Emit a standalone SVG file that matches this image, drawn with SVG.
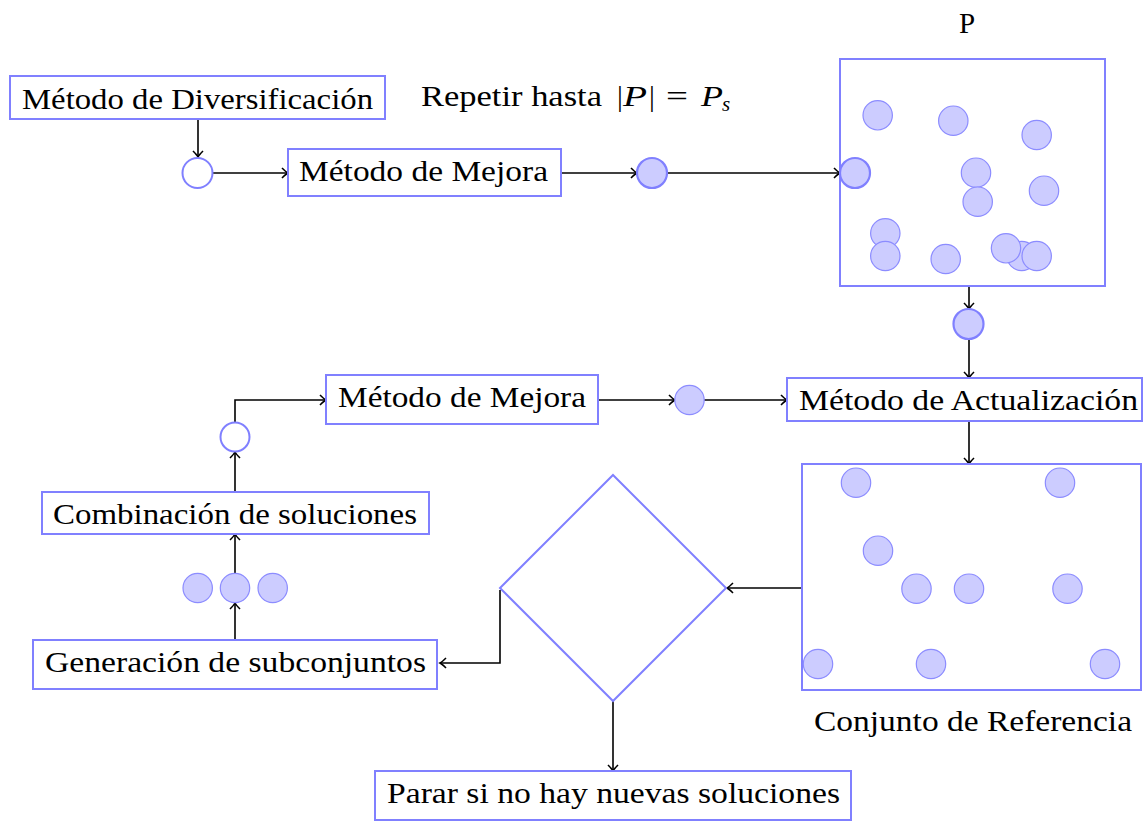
<svg xmlns="http://www.w3.org/2000/svg" width="1146" height="821" viewBox="0 0 1146 821">
<style>
.box{fill:#fff;stroke:#8080ff;stroke-width:2}
.dia{fill:none;stroke:#8080ff;stroke-width:2}
.sol{fill:#ccccff;stroke:#8c8cff;stroke-width:1.2}
.solb{fill:#ccccff;stroke:#8080ff;stroke-width:2.2}
.emp{fill:#fff;stroke:#8080ff;stroke-width:2}
.t{font-family:"Liberation Serif","Times New Roman",serif;font-size:29px;fill:#000}
.c{fill:none;stroke:#000;stroke-width:1.6}
</style>
<defs>
<marker id="ar" markerUnits="userSpaceOnUse" markerWidth="14" markerHeight="14" viewBox="-8 -7 10 14" refX="0" refY="0" orient="auto">
<path d="M-6,-5 Q-2,-1 0,0 Q-2,1 -6,5" fill="none" stroke="#000" stroke-width="1.6"/>
</marker>
</defs>
<g id="connectors">
<path class="c" d="M198,119 V157" marker-end="url(#ar)"/>
<path class="c" d="M212,173 H288" marker-end="url(#ar)"/>
<path class="c" d="M561,173 H637" marker-end="url(#ar)"/>
<path class="c" d="M667,173 H840" marker-end="url(#ar)"/>
<path class="c" d="M969,286 V309" marker-end="url(#ar)"/>
<path class="c" d="M969,339 V378" marker-end="url(#ar)"/>
<path class="c" d="M969,421 V464" marker-end="url(#ar)"/>
<path class="c" d="M802,588 H727" marker-end="url(#ar)"/>
<path class="c" d="M500,590 V663 H440" marker-end="url(#ar)"/>
<path class="c" d="M613,701 V771" marker-end="url(#ar)"/>
<path class="c" d="M235,640 V603" marker-end="url(#ar)"/>
<path class="c" d="M235,573 V534" marker-end="url(#ar)"/>
<path class="c" d="M235,491 V452" marker-end="url(#ar)"/>
<path class="c" d="M235,422 V400 H326" marker-end="url(#ar)"/>
<path class="c" d="M598,400 H675" marker-end="url(#ar)"/>
<path class="c" d="M704,400 H787" marker-end="url(#ar)"/>
</g>
<g id="diversificacion">
<rect class="box" x="10" y="76" width="375" height="43"/>
<text class="t" x="22" y="109" textLength="351" lengthAdjust="spacingAndGlyphs">Método de Diversificación</text>
</g>
<g id="circ1"><circle class="emp" cx="197.5" cy="173" r="15"/></g>
<g id="mejora1">
<rect class="box" x="288" y="149" width="273" height="47"/>
<text class="t" x="299" y="181" textLength="249" lengthAdjust="spacingAndGlyphs">Método de Mejora</text>
</g>
<g id="repetir">
<text class="t" y="106"><tspan x="421" textLength="181" lengthAdjust="spacingAndGlyphs">Repetir hasta</tspan><tspan x="617">|</tspan><tspan x="623" font-style="italic" textLength="24" lengthAdjust="spacingAndGlyphs">P</tspan><tspan x="649">|</tspan><tspan x="666" textLength="22" lengthAdjust="spacingAndGlyphs">=</tspan><tspan x="701" font-style="italic" textLength="22" lengthAdjust="spacingAndGlyphs">P</tspan><tspan x="722" y="111" font-style="italic" font-size="21">s</tspan></text>
</g>
<g id="circ2"><circle class="solb" cx="652" cy="173" r="15"/></g>
<g id="setP">
<text class="t" x="967" y="33" text-anchor="middle">P</text>
<rect class="box" x="840" y="59" width="265" height="227"/>
<circle class="sol" cx="877.7" cy="115.3" r="14.7"/>
<circle class="sol" cx="953.3" cy="120.7" r="14.7"/>
<circle class="sol" cx="1036.7" cy="135" r="14.7"/>
<circle class="sol" cx="976" cy="172.7" r="14.7"/>
<circle class="sol" cx="977.7" cy="201.7" r="14.7"/>
<circle class="sol" cx="1044" cy="190.7" r="14.7"/>
<circle class="sol" cx="885.3" cy="233.3" r="14.7"/>
<circle class="sol" cx="885.3" cy="256" r="14.7"/>
<circle class="sol" cx="945.7" cy="259" r="14.7"/>
<circle class="sol" cx="1021.7" cy="256" r="14.7"/>
<circle class="sol" cx="1006" cy="248.3" r="14.7"/>
<circle class="sol" cx="1036.7" cy="256" r="14.7"/>
<circle class="solb" cx="855" cy="173" r="15"/>
</g>
<g id="circ3"><circle class="solb" cx="968.5" cy="324" r="15"/></g>
<g id="actualizacion">
<rect class="box" x="787" y="378" width="355" height="43"/>
<text class="t" x="799" y="410" textLength="339" lengthAdjust="spacingAndGlyphs">Método de Actualización</text>
</g>
<g id="mejora2">
<rect class="box" x="326" y="375" width="272" height="49"/>
<text class="t" x="338" y="407" textLength="248" lengthAdjust="spacingAndGlyphs">Método de Mejora</text>
</g>
<g id="circ4"><circle class="sol" cx="689.5" cy="400" r="14.7"/></g>
<g id="circ5"><circle class="emp" cx="235" cy="437" r="14.5"/></g>
<g id="combinacion">
<rect class="box" x="42" y="492" width="387" height="42"/>
<text class="t" x="53" y="524" textLength="364" lengthAdjust="spacingAndGlyphs">Combinación de soluciones</text>
</g>
<g id="subsets">
<circle class="sol" cx="197.7" cy="588" r="14.7"/>
<circle class="sol" cx="235" cy="588" r="14.7"/>
<circle class="sol" cx="272.7" cy="588" r="14.7"/>
</g>
<g id="generacion">
<rect class="box" x="33" y="640" width="404" height="49"/>
<text class="t" x="45" y="672" textLength="381" lengthAdjust="spacingAndGlyphs">Generación de subconjuntos</text>
</g>
<g id="decision">
<path class="dia" d="M613,475 L726,588 L613,701 L500,588 Z"/>
</g>
<g id="refset">
<rect class="box" x="802" y="464" width="339" height="226"/>
<circle class="sol" cx="856" cy="482.7" r="14.7"/>
<circle class="sol" cx="1060" cy="482.7" r="14.7"/>
<circle class="sol" cx="878" cy="550.7" r="14.7"/>
<circle class="sol" cx="916.5" cy="588.7" r="14.7"/>
<circle class="sol" cx="969" cy="588.7" r="14.7"/>
<circle class="sol" cx="1067.5" cy="588.7" r="14.7"/>
<circle class="sol" cx="818" cy="664" r="14.7"/>
<circle class="sol" cx="931" cy="664" r="14.7"/>
<circle class="sol" cx="1105" cy="664" r="14.7"/>
<text class="t" x="814" y="731" textLength="318" lengthAdjust="spacingAndGlyphs">Conjunto de Referencia</text>
</g>
<g id="parar">
<rect class="box" x="375" y="771" width="476" height="49"/>
<text class="t" x="387" y="803" textLength="453" lengthAdjust="spacingAndGlyphs">Parar si no hay nuevas soluciones</text>
</g>
</svg>
